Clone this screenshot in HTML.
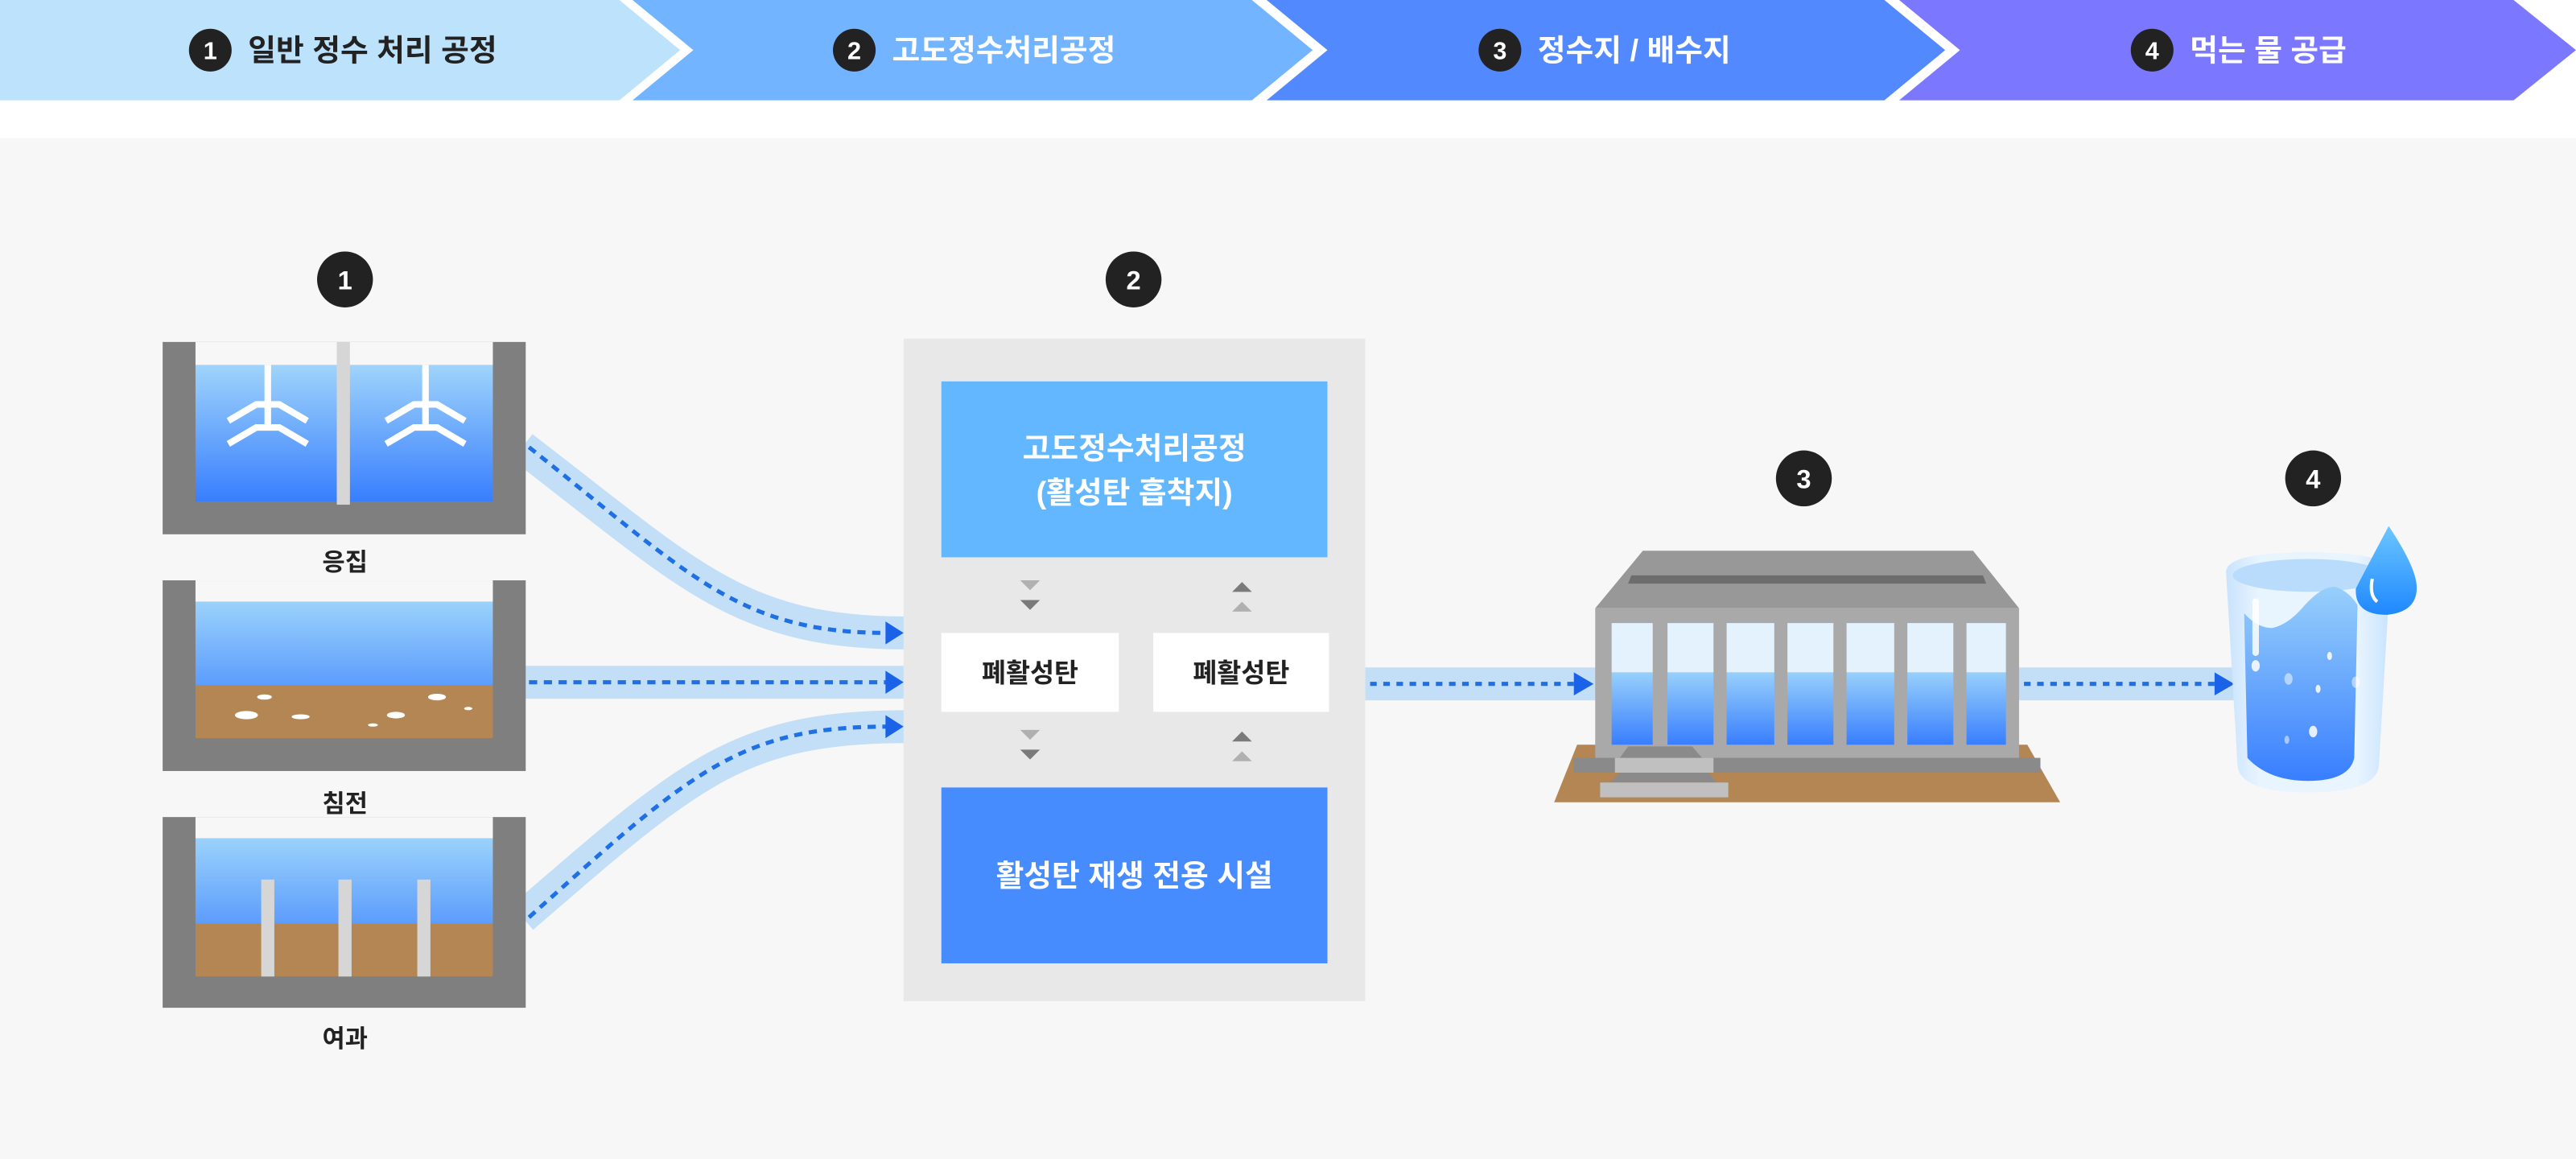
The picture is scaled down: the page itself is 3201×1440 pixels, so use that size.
<!DOCTYPE html>
<html><head><meta charset="utf-8"><style>
html,body{margin:0;padding:0;background:#fff;}
svg{display:block;}
text{font-family:"Liberation Sans","Noto Sans CJK KR",sans-serif;font-weight:bold;}
</style></head><body>
<svg width="3201" height="1440" viewBox="0 0 1568 705" preserveAspectRatio="none" xmlns="http://www.w3.org/2000/svg">
<defs>
<linearGradient id="w" x1="0" y1="0" x2="0" y2="1"><stop offset="0" stop-color="#9fd4fb"/><stop offset="1" stop-color="#387efe"/></linearGradient>
<linearGradient id="w2" x1="0" y1="0" x2="0" y2="1"><stop offset="0" stop-color="#9bd2fb"/><stop offset="1" stop-color="#5c9cfd"/></linearGradient>
<linearGradient id="gw" x1="0" y1="0" x2="0" y2="1"><stop offset="0" stop-color="#98d0fb"/><stop offset="1" stop-color="#387efe"/></linearGradient>
<linearGradient id="gl" x1="0" y1="0" x2="1" y2="0"><stop offset="0" stop-color="#c8e3fd"/><stop offset="0.2" stop-color="#e8f4fe"/><stop offset="0.8" stop-color="#e8f4fe"/><stop offset="1" stop-color="#c8e3fd"/></linearGradient>
<linearGradient id="dr" x1="0" y1="0" x2="0" y2="1"><stop offset="0" stop-color="#6cc6ff"/><stop offset="1" stop-color="#1f88ff"/></linearGradient>
</defs>
<rect x="0" y="0" width="1568" height="705" fill="#fff"/>
<rect x="0" y="84" width="1568" height="621" fill="#f7f7f7"/>
<polygon points="0,0 377,0 414,30.5 377,61 0,61" fill="#bde2fc"/>
<polygon points="385,0 762,0 799,30.5 762,61 385,61 422,30.5" fill="#72b4ff"/>
<polygon points="771,0 1147,0 1184,30.5 1147,61 771,61 808,30.5" fill="#5389ff"/>
<polygon points="1156,0 1530,0 1568,30.5 1530,61 1156,61 1193,30.5" fill="#7b78ff"/>
<g font-size="18.5">
<circle cx="128" cy="30.5" r="13" fill="#222"/><text x="128" y="36" fill="#fff" text-anchor="middle" font-size="15">1</text>
<text x="151" y="37" fill="#222">일반 정수 처리 공정</text>
<circle cx="520" cy="30.5" r="13" fill="#222"/><text x="520" y="36" fill="#fff" text-anchor="middle" font-size="15">2</text>
<text x="543" y="37" fill="#fff">고도정수처리공정</text>
<circle cx="913" cy="30.5" r="13" fill="#222"/><text x="913" y="36" fill="#fff" text-anchor="middle" font-size="15">3</text>
<text x="936" y="37" fill="#fff">정수지 / 배수지</text>
<circle cx="1310" cy="30.5" r="13" fill="#222"/><text x="1310" y="36" fill="#fff" text-anchor="middle" font-size="15">4</text>
<text x="1333" y="37" fill="#fff">먹는 물 공급</text>
</g>
<g font-size="16">
<circle cx="210" cy="170" r="17" fill="#222"/><text x="210" y="176" fill="#fff" text-anchor="middle">1</text>
<circle cx="690" cy="170" r="17" fill="#222"/><text x="690" y="176" fill="#fff" text-anchor="middle">2</text>
<circle cx="1098" cy="291" r="17" fill="#222"/><text x="1098" y="297" fill="#fff" text-anchor="middle">3</text>
<circle cx="1408" cy="291" r="17" fill="#222"/><text x="1408" y="297" fill="#fff" text-anchor="middle">4</text>
</g>
<g fill="none" stroke="#c2dff7" stroke-width="20">
<path d="M318,272 C420,350 450,385 552,385"/>
<path d="M318,415 L552,415"/>
<path d="M318,558 C420,470 450,442 552,442"/>
<path d="M831,416 L972,416"/>
<path d="M1229,416 L1362,416"/>
</g>
<g fill="none" stroke="#1f6fe5" stroke-width="2.5" stroke-dasharray="5 4">
<path d="M322,272 C420,350 450,385 540,385"/>
<path d="M322,415 L540,415"/>
<path d="M322,558 C420,470 450,442 540,442"/>
<path d="M834,416 L960,416" stroke-dasharray="4 4"/>
<path d="M1232,416 L1350,416" stroke-dasharray="4 4"/>
</g>
<g fill="#1a62e8">
<polygon points="539,378 550,385 539,392"/>
<polygon points="539,408 550,415 539,422"/>
<polygon points="539,435 550,442 539,449"/>
<polygon points="958,409 970,416 958,423"/>
<polygon points="1348,409 1360,416 1348,423"/>
</g>
<rect x="99" y="208" width="221" height="117" fill="#7f7f7f"/>
<rect x="119" y="208" width="181" height="14" fill="#f7f7f7"/>
<rect x="119" y="222" width="181" height="83" fill="url(#w)"/>
<rect x="205" y="208" width="8" height="99" fill="#d6d6d6"/>
<g stroke="#fff" stroke-width="4" fill="none">
<path d="M163,222 V258"/><path d="M139,256 L156,246 H170 L187,256"/><path d="M139,270 L156,260 H170 L187,270"/>
<path d="M259,222 V258"/><path d="M235,256 L252,246 H266 L283,256"/><path d="M235,270 L252,260 H266 L283,270"/>
</g>
<text x="210" y="347" font-size="15" fill="#222" text-anchor="middle">응집</text>
<rect x="99" y="353" width="221" height="116" fill="#7f7f7f"/>
<rect x="119" y="353" width="181" height="13" fill="#f7f7f7"/>
<rect x="119" y="366" width="181" height="51" fill="url(#w2)"/>
<rect x="119" y="417" width="181" height="32" fill="#b38653"/>
<g fill="#fff">
<ellipse cx="150" cy="435" rx="7" ry="2.5"/><ellipse cx="161" cy="424" rx="4.5" ry="1.6"/><ellipse cx="183" cy="436" rx="5.5" ry="1.5"/>
<ellipse cx="227" cy="441" rx="3" ry="1"/><ellipse cx="241" cy="435" rx="5.5" ry="2"/><ellipse cx="266" cy="424" rx="5.5" ry="2"/><ellipse cx="285" cy="431" rx="2.5" ry="1"/>
</g>
<text x="210" y="494" font-size="15" fill="#222" text-anchor="middle">침전</text>
<rect x="99" y="497" width="221" height="116" fill="#7f7f7f"/>
<rect x="119" y="497" width="181" height="13" fill="#f7f7f7"/>
<rect x="119" y="510" width="181" height="52" fill="url(#w2)"/>
<rect x="119" y="562" width="181" height="32" fill="#b38653"/>
<g fill="#d6d6d6"><rect x="159" y="535" width="8" height="59"/><rect x="206" y="535" width="8" height="59"/><rect x="254" y="535" width="8" height="59"/></g>
<text x="210" y="637" font-size="15" fill="#222" text-anchor="middle">여과</text>
<rect x="550" y="206" width="281" height="403" fill="#e8e8e8"/>
<rect x="573" y="232" width="235" height="107" fill="#63b7ff"/>
<text x="690.5" y="279" font-size="18.5" fill="#fff" text-anchor="middle">고도정수처리공정</text>
<text x="690.5" y="306" font-size="18.5" fill="#fff" text-anchor="middle">(활성탄 흡착지)</text>
<rect x="573" y="385" width="108" height="48" fill="#fff"/>
<rect x="702" y="385" width="107" height="48" fill="#fff"/>
<text x="627" y="415" font-size="16" fill="#222" text-anchor="middle">폐활성탄</text>
<text x="755.5" y="415" font-size="16" fill="#222" text-anchor="middle">폐활성탄</text>
<g>
<polygon points="621,353 633,353 627,359" fill="#b0b0b0"/><polygon points="621,365 633,365 627,371" fill="#7a7a7a"/>
<polygon points="621,444 633,444 627,450" fill="#b0b0b0"/><polygon points="621,456 633,456 627,462" fill="#7a7a7a"/>
<polygon points="750,360 762,360 756,354" fill="#7a7a7a"/><polygon points="750,372 762,372 756,366" fill="#b0b0b0"/>
<polygon points="750,451 762,451 756,445" fill="#7a7a7a"/><polygon points="750,463 762,463 756,457" fill="#b0b0b0"/>
</g>
<rect x="573" y="479" width="235" height="107" fill="#478cff"/>
<text x="690.5" y="539" font-size="18.5" fill="#fff" text-anchor="middle">활성탄 재생 전용 시설</text>
<polygon points="960,453 1234,453 1254,488 946,488" fill="#b38653"/>
<polygon points="1000,335 1201,335 1229,370 971,370" fill="#989898"/>
<polygon points="993,350 1207,350 1209,355 991,355" fill="#6d6d6d"/>
<rect x="971" y="370" width="258" height="91" fill="#a9a9a9"/>
<g>
<rect x="981" y="379" width="25" height="30" fill="#e4f2fe"/><rect x="981" y="409" width="25" height="44" fill="url(#gw)"/>
<rect x="1015" y="379" width="28" height="30" fill="#e4f2fe"/><rect x="1015" y="409" width="28" height="44" fill="url(#gw)"/>
<rect x="1051" y="379" width="29" height="30" fill="#e4f2fe"/><rect x="1051" y="409" width="29" height="44" fill="url(#gw)"/>
<rect x="1088" y="379" width="28" height="30" fill="#e4f2fe"/><rect x="1088" y="409" width="28" height="44" fill="url(#gw)"/>
<rect x="1124" y="379" width="29" height="30" fill="#e4f2fe"/><rect x="1124" y="409" width="29" height="44" fill="url(#gw)"/>
<rect x="1161" y="379" width="28" height="30" fill="#e4f2fe"/><rect x="1161" y="409" width="28" height="44" fill="url(#gw)"/>
<rect x="1197" y="379" width="24" height="30" fill="#e4f2fe"/><rect x="1197" y="409" width="24" height="44" fill="url(#gw)"/>
</g>
<rect x="958" y="461" width="284" height="9" fill="#8a8a8a"/>
<polygon points="991,454 1030,454 1036,461 986,461" fill="#8a8a8a"/>
<rect x="983" y="461" width="60" height="9" fill="#c0c0c0"/>
<polygon points="986,470 1040,470 1045,476 980,476" fill="#8a8a8a"/>
<rect x="974" y="476" width="78" height="9" fill="#c0c0c0"/>
<!-- glass -->
<path d="M1355,348 Q1355,336 1405,336 Q1455,336 1455,348 L1448,466 Q1446,482 1405,482 Q1364,482 1362,466 Z" fill="url(#gl)"/>
<ellipse cx="1405" cy="350" rx="46" ry="10" fill="#b9dcfc"/>
<path d="M1366,373 Q1374,382 1383,382 Q1393,380 1403,368 Q1414,356 1422,357 Q1430,360 1435,368 L1433,461 Q1430,475 1405,475 Q1381,475 1368,461 Z" fill="url(#gw)"/>
<g fill="#fff" opacity="0.85">
<rect x="1371" y="364" width="4" height="35" rx="2"/>
<ellipse cx="1373" cy="405" rx="2.5" ry="3.5"/><ellipse cx="1393" cy="413" rx="2.5" ry="3.5" opacity="0.6"/><ellipse cx="1418" cy="399" rx="1.5" ry="2.5"/>
<ellipse cx="1411" cy="419" rx="1.5" ry="2.5"/><ellipse cx="1434" cy="415" rx="2.5" ry="3.5" opacity="0.6"/>
<ellipse cx="1408" cy="445" rx="2.5" ry="3.5"/><ellipse cx="1392" cy="450" rx="1.5" ry="2.5" opacity="0.6"/>
</g>
<path d="M1454,320 Q1438,350 1434,358 Q1433,374 1453,374 Q1472,372 1471,356 Q1470,344 1454,320 Z" fill="url(#dr)"/>
<path d="M1444,352 Q1442,362 1447,366" stroke="#fff" stroke-width="2" fill="none"/>
</svg>
</body></html>
